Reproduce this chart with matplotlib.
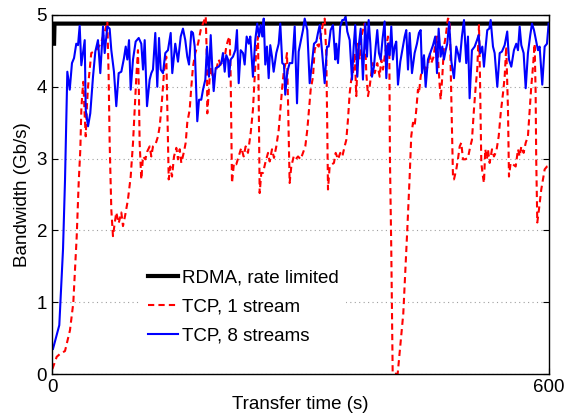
import matplotlib
matplotlib.use("Agg")
import matplotlib.pyplot as plt

# RDMA transfer, capped by the rate limiter
rdma_t = [0, 2.5, 3.0, 600]
rdma_bw = [4.60, 4.60, 4.88, 4.88]

# single TCP stream (sawtooth from congestion control)
tcp1_t = [
    0.5, 5.7, 9.7, 15.7, 21.7, 25.7, 29.8, 32.2, 34.2, 35.4, 36.6, 37.8, 39.5, 40.7, 42.3, 43.5,
    45.5, 47.4, 50.3, 53.5, 56.4, 58.8, 61.6, 64.3, 66.8, 68.4, 69.6, 71.6, 73.6, 75.7, 77.6, 80.5,
    83.7, 85.7, 88.5, 91.7, 95.0, 97.8, 99.8, 101.8, 103.8, 105.0, 105.8, 107.8, 109.9, 112.7, 115.0, 117.9,
    119.9, 121.9, 124.7, 128.0, 130.0, 131.9, 134.0, 136.0, 138.0, 139.2, 140.9, 142.8, 144.9, 147.3, 150.1, 152.1,
    154.2, 156.1, 159.4, 161.4, 163.3, 166.2, 168.2, 170.2, 173.0, 176.3, 179.5, 182.3, 185.6, 187.1, 187.5, 190.4,
    192.3, 194.4, 198.3, 201.2, 204.4, 207.6, 210.4, 212.5, 214.5, 215.7, 216.5, 217.3, 219.7, 222.5, 225.4, 228.5,
    231.4, 233.8, 236.6, 238.7, 239.9, 242.6, 244.7, 246.6, 248.7, 249.5, 250.7, 252.7, 254.7, 257.5, 260.8, 262.8,
    265.6, 268.0, 270.8, 273.7, 276.1, 278.0, 280.1, 282.1, 283.7, 284.9, 286.9, 288.9, 291.8, 294.2, 297.0, 300.2,
    303.0, 305.8, 308.2, 310.2, 312.3, 315.1, 317.1, 319.1, 322.0, 324.4, 327.2, 329.2, 331.1, 332.3, 333.2, 335.2,
    338.0, 340.4, 342.5, 345.3, 348.0, 350.5, 353.3, 355.3, 357.3, 359.4, 361.3, 363.4, 365.4, 367.4, 369.4, 371.5,
    373.4, 375.4, 377.5, 379.4, 381.5, 383.5, 385.5, 387.5, 389.6, 392.7, 395.6, 397.5, 399.6, 401.6, 403.6, 405.6,
    407.2, 408.0, 409.6, 411.3, 417.3, 424.1, 428.9, 431.8, 433.7, 435.8, 437.8, 439.8, 441.8, 443.0, 445.1, 446.7,
    449.1, 451.1, 453.9, 456.0, 457.9, 460.8, 462.7, 464.8, 466.8, 469.2, 471.2, 473.2, 475.3, 478.0, 480.1, 482.0,
    484.1, 485.3, 488.1, 490.1, 492.2, 494.1, 496.2, 498.9, 502.2, 505.0, 507.0, 509.4, 511.5, 513.4, 515.5, 516.7,
    518.3, 520.3, 521.5, 523.1, 525.1, 526.3, 528.4, 531.2, 533.6, 536.4, 539.3, 541.7, 544.5, 546.5, 548.4, 550.5,
    551.7, 553.7, 556.5, 559.8, 562.6, 564.6, 566.6, 569.4, 571.9, 574.6, 576.7, 578.6, 580.7, 582.7, 583.9, 584.6,
    585.9, 587.9, 590.7, 594.8, 597.6, 599.6,
]
tcp1_bw = [
    0.07, 0.24, 0.28, 0.32, 0.61, 0.99, 1.91, 2.66, 3.13, 3.68, 3.91, 4.07, 3.59, 3.31, 3.77, 4.00,
    4.24, 4.47, 4.49, 4.51, 4.56, 4.60, 4.70, 4.79, 4.91, 4.14, 3.22, 2.29, 1.92, 2.10, 2.25, 2.10,
    2.25, 2.06, 2.22, 2.43, 2.75, 3.22, 3.68, 4.14, 4.51, 3.87, 3.22, 2.71, 3.03, 2.99, 3.10, 3.17,
    3.03, 3.17, 3.19, 3.31, 3.45, 3.68, 4.00, 4.33, 4.42, 3.68, 2.71, 2.89, 2.75, 3.03, 3.15, 2.99,
    3.13, 2.94, 3.10, 3.22, 3.50, 3.68, 4.00, 4.28, 4.47, 4.60, 4.79, 4.88, 4.98, 4.33, 3.63, 4.14,
    4.28, 4.10, 4.24, 4.38, 4.28, 4.33, 4.56, 4.65, 4.70, 4.14, 3.45, 2.66, 2.94, 2.92, 3.03, 3.15,
    3.03, 3.17, 3.08, 3.26, 3.36, 3.68, 4.14, 4.51, 4.70, 3.90, 2.52, 2.80, 2.80, 2.94, 3.08, 2.96,
    3.13, 3.01, 3.17, 3.40, 3.73, 4.00, 4.24, 4.33, 4.47, 3.82, 2.66, 2.89, 3.03, 2.99, 3.03, 2.99,
    3.08, 3.17, 3.40, 3.68, 3.96, 4.14, 4.51, 4.60, 4.56, 4.70, 4.88, 4.95, 4.47, 3.45, 2.57, 2.89,
    2.92, 2.94, 3.08, 2.99, 3.08, 3.03, 3.17, 3.26, 3.54, 3.91, 4.10, 4.19, 4.47, 3.87, 4.60, 4.38,
    4.70, 4.79, 4.88, 4.20, 3.87, 4.00, 4.19, 4.33, 4.19, 4.33, 4.14, 4.38, 4.24, 4.42, 4.56, 4.70,
    4.56, 3.00, 1.74, 0.01, 0.00, 0.84, 2.00, 2.75, 3.31, 3.50, 3.45, 3.68, 3.96, 3.91, 4.14, 4.24,
    4.33, 4.24, 4.28, 4.47, 4.33, 4.42, 4.60, 4.70, 4.24, 3.82, 4.14, 4.56, 4.70, 4.95, 4.93, 3.91,
    2.75, 2.71, 2.85, 2.99, 3.17, 3.22, 2.99, 2.99, 3.01, 3.17, 3.26, 3.68, 4.00, 4.24, 4.86, 4.14,
    2.94, 2.75, 2.66, 3.13, 2.99, 3.13, 2.94, 3.13, 3.03, 3.10, 3.31, 3.63, 3.91, 4.14, 4.56, 3.68,
    2.75, 2.94, 2.92, 2.89, 3.13, 3.03, 3.17, 3.08, 3.22, 3.31, 3.68, 4.00, 4.28, 4.60, 3.91, 2.99,
    2.11, 2.29, 2.57, 2.85, 2.89, 2.90,
]

# eight parallel TCP streams
tcp8_t = [
    1.2, 8.8, 13.3, 15.7, 18.5, 21.4, 24.1, 26.6, 29.3, 31.4, 33.4, 35.4, 39.5, 40.7, 43.5, 46.2,
    49.5, 52.3, 55.5, 58.3, 61.6, 63.6, 66.8, 69.6, 71.6, 74.8, 77.6, 80.5, 83.7, 86.9, 89.0, 90.9,
    93.0, 95.0, 97.8, 101.0, 104.7, 107.8, 109.9, 111.9, 114.7, 117.9, 119.9, 121.9, 124.7, 127.1, 129.2, 131.2,
    134.0, 136.8, 140.0, 143.3, 145.2, 148.8, 152.1, 155.4, 158.1, 160.9, 163.3, 165.4, 168.2, 170.2, 172.3, 175.4,
    177.5, 180.2, 182.3, 185.1, 187.1, 189.5, 191.6, 193.5, 195.2, 197.6, 201.2, 204.4, 206.4, 208.5, 210.4, 212.5,
    213.7, 215.7, 218.5, 221.3, 223.3, 225.4, 227.8, 230.6, 232.6, 235.0, 237.5, 239.4, 242.6, 245.4, 247.8, 249.9,
    251.9, 253.9, 255.6, 257.5, 259.5, 261.6, 263.5, 265.6, 267.6, 270.8, 273.7, 275.6, 278.0, 280.1, 281.6, 284.1,
    286.9, 290.1, 293.0, 295.8, 297.8, 300.2, 303.0, 305.1, 308.2, 311.1, 313.9, 316.3, 319.1, 321.1, 323.2, 325.9,
    329.2, 332.0, 334.0, 336.4, 339.2, 342.0, 343.2, 345.3, 348.0, 350.5, 352.5, 354.5, 356.5, 359.4, 362.2, 364.2,
    366.1, 368.6, 370.6, 372.7, 375.4, 378.2, 380.3, 382.3, 384.3, 386.3, 388.7, 390.8, 392.7, 394.7, 396.8, 399.2,
    401.6, 403.6, 405.6, 407.7, 409.6, 411.6, 413.7, 415.6, 417.7, 420.5, 423.7, 425.8, 427.7, 429.8, 431.8, 434.6,
    437.8, 440.6, 443.0, 445.1, 446.7, 449.1, 451.1, 453.9, 457.2, 460.0, 462.7, 464.8, 466.8, 469.2, 471.2, 473.2,
    475.3, 477.2, 479.5, 482.2, 485.3, 488.1, 490.1, 492.2, 494.9, 497.4, 500.1, 502.2, 504.2, 507.0, 510.3, 513.1,
    515.1, 517.1, 519.5, 521.5, 523.6, 525.5, 527.9, 529.6, 532.4, 534.4, 537.6, 540.5, 543.2, 546.5, 549.6, 551.7,
    554.5, 557.7, 560.5, 562.6, 564.6, 566.6, 569.4, 571.9, 574.6, 577.4, 579.5, 581.9, 584.6, 586.7, 588.7, 591.9,
    594.8, 597.6, 599.6,
]
tcp8_bw = [
    0.35, 0.68, 1.74, 2.70, 4.21, 3.96, 4.33, 4.40, 4.60, 4.58, 4.85, 4.30, 4.65, 3.68, 3.45, 3.63,
    4.14, 4.49, 4.65, 4.19, 4.84, 4.47, 4.84, 4.81, 4.51, 4.21, 3.73, 4.19, 4.21, 4.40, 4.56, 4.38,
    4.65, 3.96, 4.38, 4.63, 4.68, 4.60, 4.24, 4.65, 3.73, 4.10, 4.19, 4.24, 4.75, 4.00, 4.68, 4.24,
    4.19, 4.47, 4.51, 4.75, 4.19, 4.60, 4.35, 4.70, 4.81, 4.65, 4.42, 4.31, 4.77, 4.75, 4.56, 3.52,
    3.82, 3.82, 3.96, 4.10, 4.56, 4.14, 4.72, 4.26, 3.94, 4.26, 4.28, 4.33, 4.47, 4.21, 4.44, 4.38,
    4.14, 4.38, 4.42, 4.51, 4.79, 4.05, 4.51, 4.47, 4.31, 4.70, 4.60, 4.70, 4.14, 4.65, 4.88, 4.70,
    4.86, 4.70, 4.95, 4.31, 4.56, 4.12, 4.58, 4.42, 4.21, 4.47, 4.60, 4.88, 4.33, 4.31, 3.89, 4.21,
    4.33, 4.33, 4.84, 3.77, 4.49, 4.63, 4.79, 4.95, 4.79, 4.05, 4.33, 4.60, 4.63, 4.75, 4.86, 4.51,
    4.05, 4.56, 4.56, 4.79, 4.86, 4.38, 4.60, 4.33, 4.84, 4.93, 4.93, 4.98, 4.77, 4.65, 4.10, 4.56,
    4.86, 4.14, 4.60, 4.81, 4.10, 4.88, 4.42, 4.93, 4.60, 4.14, 4.28, 4.56, 4.79, 4.47, 4.38, 4.68,
    4.91, 4.12, 4.60, 4.44, 4.84, 4.38, 4.56, 4.63, 4.03, 4.35, 4.56, 4.70, 4.79, 4.24, 4.75, 4.19,
    4.47, 4.60, 4.75, 4.79, 4.19, 4.44, 4.00, 4.38, 4.49, 4.58, 4.70, 4.19, 4.81, 4.42, 4.56, 4.38,
    4.51, 4.60, 4.90, 4.35, 4.12, 4.56, 4.47, 4.35, 4.70, 4.93, 4.33, 4.70, 3.84, 4.51, 4.56, 4.65,
    4.72, 4.47, 4.56, 4.28, 4.56, 4.79, 4.81, 4.93, 4.56, 4.47, 4.00, 4.47, 4.49, 4.58, 4.77, 4.38,
    4.28, 4.51, 4.60, 4.51, 4.84, 4.58, 4.47, 3.98, 4.47, 4.72, 4.88, 4.79, 4.63, 4.51, 4.56, 4.03,
    4.56, 4.60, 4.88,
]

x_ticks = [0, 600]
y_ticks = [0, 1, 2, 3, 4, 5]

plt.rcParams['font.family'] = ['Liberation Sans', 'DejaVu Sans']
plt.rcParams['font.size'] = 13.5

fig = plt.figure(figsize=(5.74, 4.2), dpi=100)
ax = fig.add_axes([0.0906, 0.1095, 0.8658, 0.8548])

ax.plot(rdma_t, rdma_bw, color='black', linewidth=3, solid_joinstyle='miter',
        label='RDMA, rate limited')
ax.plot(tcp1_t, tcp1_bw, color='#ff0000', linewidth=1.5, linestyle=(0, (3, 2)),
        label='TCP, 1 stream')
ax.plot(tcp8_t, tcp8_bw, color='#0000ff', linewidth=1.5, label='TCP, 8 streams')

ax.set_xlim(0, 600)
ax.set_ylim(0, 5)
ax.set_xticks(x_ticks)
ax.set_yticks(y_ticks)
ax.tick_params(direction='in', top=True, right=True, length=4, width=0.8)
ax.yaxis.grid(True, linestyle=(0, (1, 3)), color='#a0a0a0', linewidth=0.8)
ax.set_axisbelow(True)
for sp in ax.spines.values():
    sp.set_linewidth(1.0)

ax.set_xlabel('Transfer time (s)', labelpad=0)
ax.set_ylabel('Bandwidth (Gb/s)', labelpad=4)

leg = ax.legend(loc='upper left', bbox_to_anchor=(0.179, 0.313), frameon=True,
                fancybox=False, edgecolor='none', facecolor='white', framealpha=1,
                handlelength=1.6, handletextpad=0.2, labelspacing=0.65,
                borderpad=0.4, borderaxespad=0)

fig.savefig('out.png', dpi=100)
